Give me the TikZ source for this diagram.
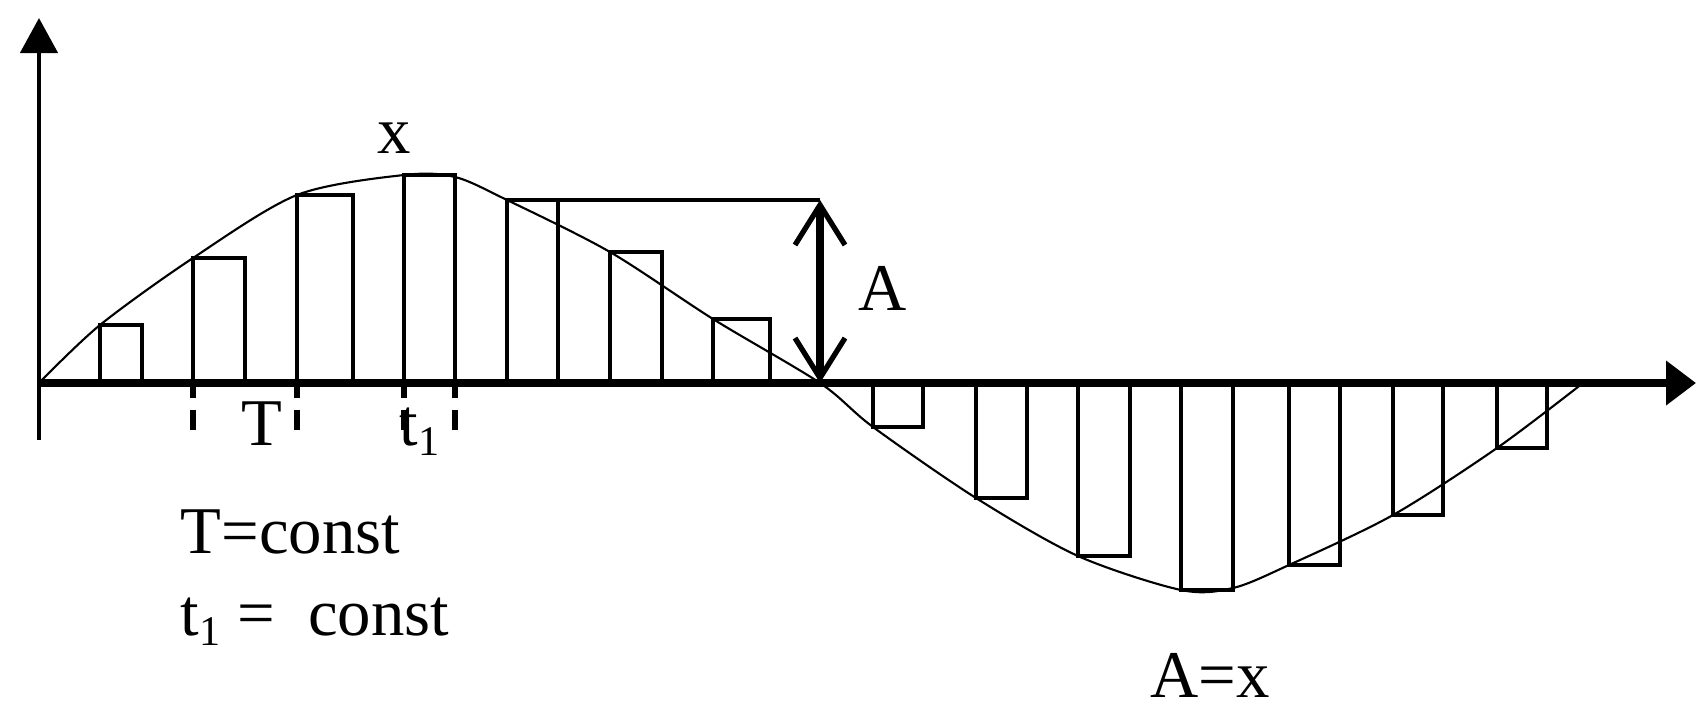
\documentclass[tikz,border=0pt]{standalone}
\usepackage{fontspec}
\setmainfont{Liberation Serif}
\usetikzlibrary{arrows.meta}

\newcommand{\pedice}{\raisebox{-0.35ex}{\fontsize{12}{12}\selectfont 1}}

\begin{document}
\begin{tikzpicture}[x=0.1mm, y=-0.1mm,
  asse/.style={line width=2.2pt},
  barra/.style={line width=0.9pt},
  tacca/.style={line width=1.6pt, dash pattern=on 1.5mm off 1.2mm on 2mm},
  testo/.style={font=\fontsize{19}{23}\selectfont, inner sep=0pt}]

% Area del disegno
\useasboundingbox (0,0) rectangle (1696,712);

% Assi
\coordinate (orig) at (39,383);
\coordinate (ybasso) at (39,440);
\coordinate (yalto) at (39,18);
\coordinate (xfine) at (1696,383);
\draw[line width=1.3pt, -{Triangle[length=3.5mm, width=3.7mm]}] (ybasso) -- (yalto);
\draw[asse, -{Triangle[length=3mm, width=4.3mm]}] (orig) -- (xfine);

% Segnale x
\draw[line width=0.6pt] plot[smooth, tension=0.5] coordinates {
  (39,383) (100,325) (193,258) (297,195) (404,175) (455,177) (507,200)
  (610,252) (713,319) (820,383) (873,427) (976,498) (1078,556)
  (1181,590) (1233,588) (1289,565) (1393,515) (1497,448) (1583,383)};

% Campioni positivi
\draw[barra] (100,383) rectangle (142,325);
\draw[barra] (193,383) rectangle (245,258);
\draw[barra] (297,383) rectangle (353,195);
\draw[barra] (404,383) rectangle (455,175);
\draw[barra] (507,383) rectangle (558,200);
\draw[barra] (610,383) rectangle (662,252);
\draw[barra] (713,383) rectangle (770,319);

% Campioni negativi
\draw[barra] (873,383) rectangle (923,427);
\draw[barra] (976,383) rectangle (1027,498);
\draw[barra] (1078,383) rectangle (1130,556);
\draw[barra] (1181,383) rectangle (1233,590);
\draw[barra] (1289,383) rectangle (1340,565);
\draw[barra] (1393,383) rectangle (1443,515);
\draw[barra] (1497,383) rectangle (1547,448);

% Ampiezza A
\coordinate (Aalto) at (820,200);
\coordinate (Abasso) at (820,383);
\draw[barra] (558,200) -- (Aalto);
\draw[line width=2.3pt,
  {Straight Barb[length=4mm, width=5mm, line width=1.5pt]}-{Straight Barb[length=4mm, width=5mm, line width=1.5pt]}]
  (Aalto) -- (Abasso);

% Tacche T e t1
\draw[tacca] (193,383) -- (193,430);
\draw[tacca] (297,383) -- (297,430);
\draw[tacca] (404,383) -- (404,430);
\draw[tacca] (455,383) -- (455,430);

% Etichette
\node[testo, anchor=base] (lblx) at (394,153) {x};
\node[testo, anchor=base] (lblA) at (883,310) {A};
\node[testo, anchor=base] (lblT) at (262,445) {T};
\node[testo, anchor=base west] (lblt) at (399,445) {t\pedice};
\node[testo, anchor=base west] (eqT) at (180,553) {T=const};
\node[testo, anchor=base west] (eqt) at (180,635) {t\pedice\ = \ const};
\node[testo, anchor=base west] (eqA) at (1150,697) {A=x};

\end{tikzpicture}
\end{document}
